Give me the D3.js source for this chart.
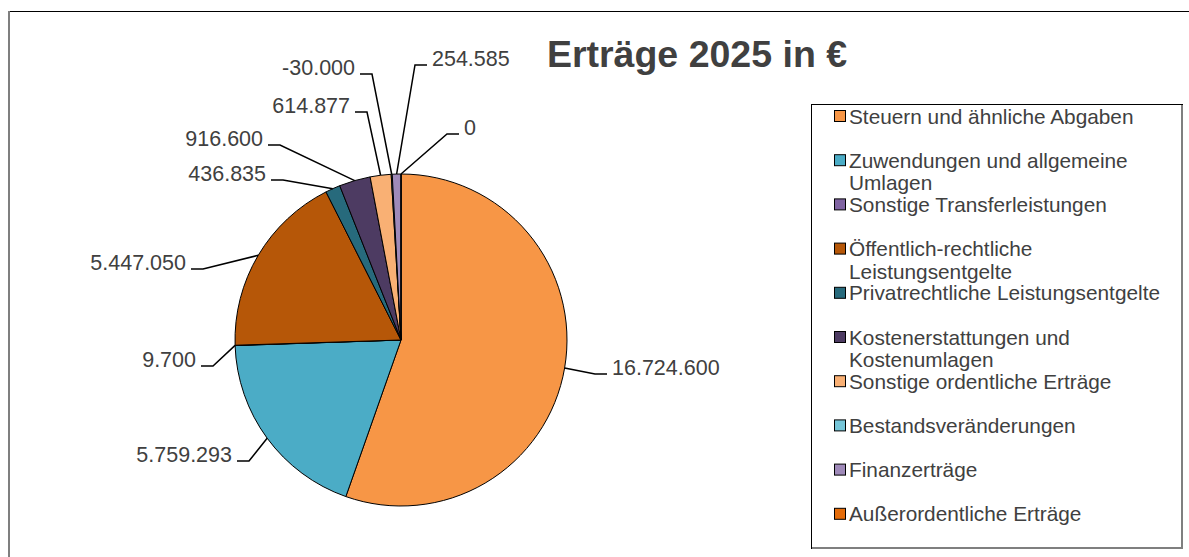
<!DOCTYPE html>
<html>
<head>
<meta charset="utf-8">
<script src="https://cdn.jsdelivr.net/npm/d3@7"></script>
<style>
  body { margin: 0; background: #fff; }
  svg text { font-family: "Liberation Sans", Arial, sans-serif; fill: #404040; }
</style>
</head>
<body>
<svg id="chart" width="1189" height="557"></svg>
<script>
// data
var categories = [
  "Steuern und ähnliche Abgaben",
  "Zuwendungen und allgemeine Umlagen",
  "Sonstige Transferleistungen",
  "Öffentlich-rechtliche Leistungsentgelte",
  "Privatrechtliche Leistungsentgelte",
  "Kostenerstattungen und Kostenumlagen",
  "Sonstige ordentliche Erträge",
  "Bestandsveränderungen",
  "Finanzerträge",
  "Außerordentliche Erträge"
];
var values = [16724600, 5759293, 9700, 5447050, 436835, 916600, 614877, -30000, 254585, 0];
var colors = ["#F79646", "#4BACC6", "#8064A2", "#B65708", "#276A7C",
              "#4D3B62", "#F9B074", "#75C5D8", "#9F8AB9", "#E46C0A"];
var title = "Erträge 2025 in €";

// where the label elbows sit, relative to the pie centre (layout only)
var labelElbows = [[194, 34, 1], [-152, 121, -1], [-188, 26, -1], [-198, -71, -1],
                   [-118, -160, -1], [-121, -195, -1], [-34, -228, -1], [-29, -266, -1],
                   [14, -275, 1], [46, -206, 1]];

var svg = d3.select("#chart");
var de = d3.formatLocale({decimal: ",", thousands: ".", grouping: [3], currency: ["", " €"], minus: "-"});
var fmt = de.format(",.0f");

// outer frame (top dark, left shaded)
svg.append("line").attr("x1", 9).attr("y1", 11.5).attr("x2", 1189).attr("y2", 11.5)
  .attr("stroke", "#000").attr("stroke-width", 1);
svg.append("line").attr("x1", 9).attr("y1", 11).attr("x2", 9).attr("y2", 557)
  .attr("stroke", "#7f7f7f").attr("stroke-width", 2);

svg.append("text")
  .attr("x", 697).attr("y", 67)
  .attr("text-anchor", "middle")
  .style("font-size", "37.5px").style("font-weight", "bold")
  .text(title);

var cx = 401, cy = 340, r = 166;
var g = svg.append("g").attr("transform", "translate(" + cx + "," + cy + ")");

var pie = d3.pie().sort(null).value(function(d) { return Math.abs(d); });
var arc = d3.arc().innerRadius(0).outerRadius(r);
var arcs = pie(values);

g.selectAll("path.slice")
  .data(arcs)
  .enter().append("path")
  .attr("class", "slice")
  .attr("d", arc)
  .attr("fill", function(d, i) { return colors[i]; })
  .attr("stroke", "#000")
  .attr("stroke-width", 1);

// leader lines + labels
arcs.forEach(function(d, i) {
  var mid = (d.startAngle + d.endAngle) / 2;
  var p0 = [r * Math.sin(mid), -r * Math.cos(mid)];
  var e = labelElbows[i];
  var side = e[2];
  var p2 = [e[0] + side * 12, e[1]];
  g.append("polyline")
    .attr("points", [p0, [e[0], e[1]], p2].map(function(p) { return p.join(","); }).join(" "))
    .attr("fill", "none")
    .attr("stroke", "#000")
    .attr("stroke-width", 1.5);
  g.append("text")
    .attr("x", p2[0] + side * 5)
    .attr("y", e[1] + 1)
    .attr("text-anchor", side > 0 ? "start" : "end")
    .style("font-size", "21.5px")
    .text(fmt(values[i]));
});

// legend
var lx = 811, ly = 104, lw = 371, lh = 444;
svg.append("rect").attr("x", lx + 0.5).attr("y", ly + 0.5).attr("width", lw).attr("height", lh)
  .attr("fill", "#fff").attr("stroke", "#000").attr("stroke-width", 1);
svg.append("polyline")
  .attr("points", (lx + 1) + "," + (ly + lh) + " " + (lx + lw) + "," + (ly + lh) + " " + (lx + lw) + "," + (ly + 1))
  .attr("fill", "none").attr("stroke", "#7f7f7f").attr("stroke-width", 2);

var step = 44.2, firstY = 116, maxW = 316;
var items = svg.append("g").selectAll("g.item")
  .data(categories)
  .enter().append("g")
  .attr("class", "item")
  .attr("transform", function(d, i) { return "translate(" + 834 + "," + (firstY + i * step) + ")"; });

items.append("rect")
  .attr("x", 0.5).attr("y", -5.5).attr("width", 11).attr("height", 11)
  .attr("fill", function(d, i) { return colors[i]; })
  .attr("stroke", "#000").attr("stroke-width", 1);

items.each(function(name) {
  var t = d3.select(this).append("text")
    .attr("x", 15).attr("y", 7.5)
    .style("font-size", "20.8px");
  var words = name.split(" "), line = [];
  var tspan = t.append("tspan").attr("x", 15).attr("dy", 0);
  words.forEach(function(w) {
    line.push(w);
    tspan.text(line.join(" "));
    if (tspan.node().getComputedTextLength() > maxW && line.length > 1) {
      line.pop();
      tspan.text(line.join(" "));
      line = [w];
      tspan = t.append("tspan").attr("x", 15).attr("dy", 22.5).text(w);
    }
  });
});
</script>
</body>
</html>
